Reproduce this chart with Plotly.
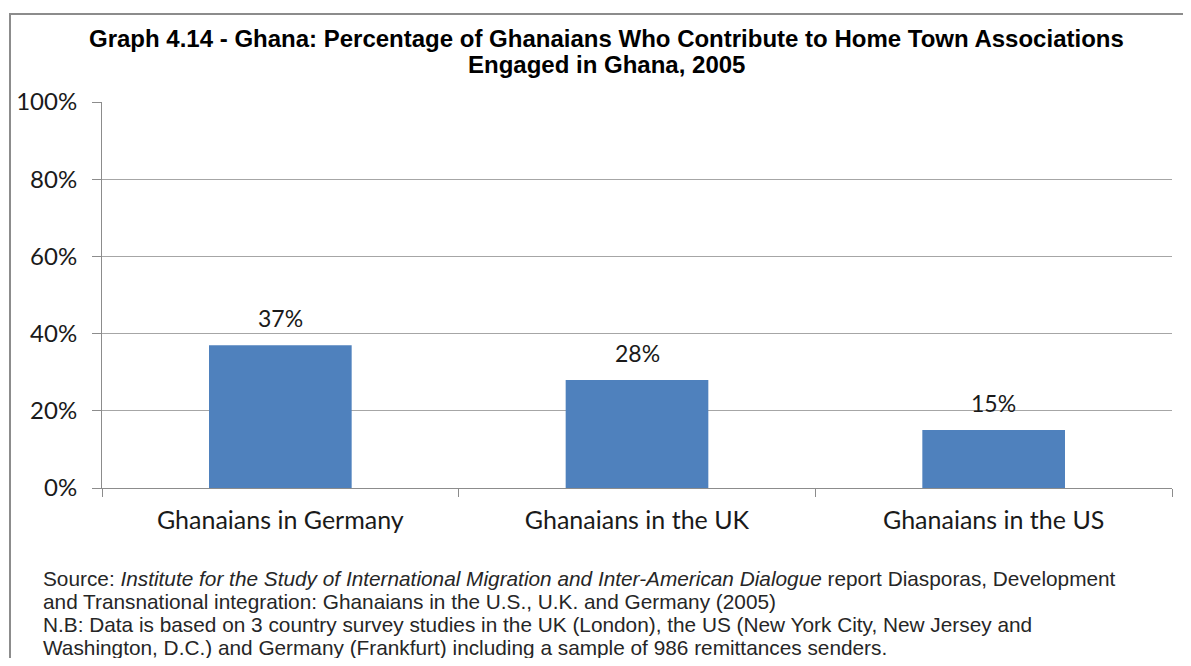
import plotly.graph_objects as go

categories = ["Ghanaians in Germany", "Ghanaians in the UK", "Ghanaians in the US"]
shares = [37, 28, 15]
y_ticks = [0, 20, 40, 60, 80, 100]
y_tick_labels = [f"{v}%" for v in y_ticks]

title_lines = [
    "<b>Graph 4.14 - Ghana: Percentage of Ghanaians Who Contribute to Home Town Associations</b>",
    "<b>Engaged in Ghana, 2005</b>",
]
source_lines = [
    "Source: <i>Institute for the Study of International Migration and Inter-American Dialogue</i>"
    " report Diasporas, Development",
    "and Transnational integration: Ghanaians in the U.S., U.K. and Germany (2005)",
    "N.B: Data is based on 3 country survey studies in the UK (London), the US (New York City, New Jersey and",
    "Washington, D.C.) and Germany (Frankfurt) including a sample of 986 remittances senders.",
]

# the page body has an 8px margin, so figure coords = screen coords - 8
OFF = 8
W, H = 1175, 650
L, T = 102 - OFF, 102 - OFF
R = W - (1172 - OFF)
B = H - (488 - OFF)
pw, ph = W - L - R, H - T - B


def px_x(p):
    return (p - OFF - L) / pw


def px_y(p):
    return (H - B - (p - OFF)) / ph


fig = go.Figure()
fig.add_trace(go.Bar(
    x=categories, y=shares,
    marker=dict(color="#4F81BD", line=dict(width=0)),
    hoverinfo="skip", showlegend=False,
))

# value labels above each bar
for cat, v in zip(categories, shares):
    fig.add_annotation(
        x=cat, y=v, text=f"{v}%", showarrow=False,
        yanchor="bottom", yshift=11,
        font=dict(family="Lato", size=23, color="#1a1a1a"),
    )

for i, line in enumerate(title_lines):
    fig.add_annotation(
        xref="paper", yref="paper", x=px_x(606), y=px_y(38 + 26 * i),
        xanchor="center", yanchor="middle",
        text=line, showarrow=False,
        font=dict(family="Liberation Sans", size=24, color="#000000"),
    )

for i, line in enumerate(source_lines):
    fig.add_annotation(
        xref="paper", yref="paper", x=px_x(41), y=px_y(578 + 23 * i),
        xanchor="left", yanchor="middle", align="left",
        text=line, showarrow=False,
        font=dict(family="Liberation Sans", size=20.8, color="#262626"),
    )

# outer chart border (open to the right and bottom, as in the picture)
fig.add_shape(
    type="rect", xref="paper", yref="paper",
    x0=px_x(10), y0=px_y(700), x1=px_x(1220), y1=px_y(14),
    line=dict(color="#8c8c8c", width=2), layer="below",
)

fig.update_layout(
    width=W, height=H,
    margin=dict(l=L, r=R, t=T, b=B, autoexpand=False),
    paper_bgcolor="white", plot_bgcolor="white",
    bargap=0.6,
    xaxis=dict(
        showline=True, linecolor="#8c8c8c", linewidth=1,
        ticks="outside", tickson="boundaries", ticklen=8, tickcolor="#8c8c8c",
        ticklabelstandoff=10,
        tickfont=dict(family="Lato", size=25, color="#1a1a1a"),
        showgrid=False,
    ),
    yaxis=dict(
        range=[0, 100], tickvals=y_ticks, ticktext=y_tick_labels,
        showline=True, linecolor="#8c8c8c", linewidth=1,
        ticks="outside", ticklen=9, tickcolor="#8c8c8c",
        ticklabelstandoff=10,
        showgrid=True, gridcolor="#a6a6a6", gridwidth=1,
        zeroline=False,
        tickfont=dict(family="Lato", size=24, color="#1a1a1a"),
    ),
)

fig.write_html("out.html")
